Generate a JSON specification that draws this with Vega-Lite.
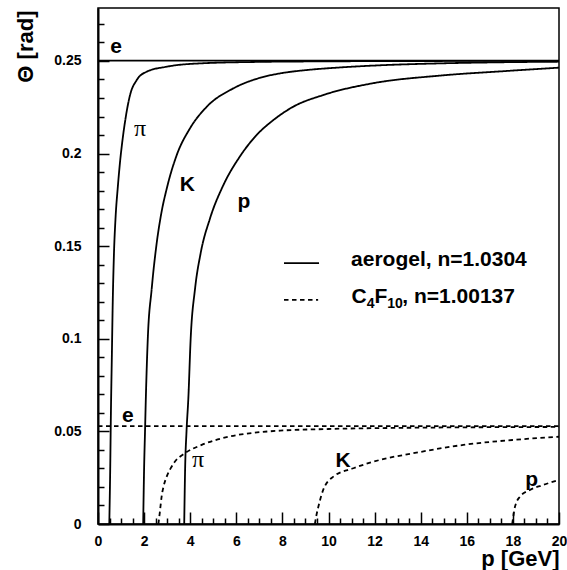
{
  "$schema": "https://vega.github.io/schema/vega-lite/v6.json",
  "width": 461,
  "height": 516,
  "autosize": {"type": "none"},
  "padding": {"left": 98, "top": 8, "right": 8, "bottom": 46},
  "background": "white",
  "config": {
    "view": {"stroke": "black", "strokeWidth": 1.5},
    "axis": {
      "grid": false,
      "ticks": true,
      "zindex": 1,
      "domainColor": "black",
      "domainWidth": 2,
      "tickColor": "black",
      "tickWidth": 1.5,
      "labelFont": "Liberation Sans",
      "labelFontWeight": "bold",
      "labelFontSize": 14,
      "labelColor": "black",
      "titleFont": "Liberation Sans",
      "titleFontWeight": "bold",
      "titleFontSize": 22,
      "titleColor": "black"
    }
  },
  "resolve": {"axis": {"x": "independent", "y": "independent"}},
  "datasets": {
    "curves": [
      {"curve": "ae", "radiator": "aerogel", "p": 0, "theta": 0.2502},
      {"curve": "ae", "radiator": "aerogel", "p": 20, "theta": 0.2502},

      {"curve": "api", "radiator": "aerogel", "p": 0.49, "theta": 0},
      {"curve": "api", "radiator": "aerogel", "p": 0.53, "theta": 0.03},
      {"curve": "api", "radiator": "aerogel", "p": 0.56, "theta": 0.06},
      {"curve": "api", "radiator": "aerogel", "p": 0.60, "theta": 0.09},
      {"curve": "api", "radiator": "aerogel", "p": 0.64, "theta": 0.12},
      {"curve": "api", "radiator": "aerogel", "p": 0.69, "theta": 0.145},
      {"curve": "api", "radiator": "aerogel", "p": 0.76, "theta": 0.165},
      {"curve": "api", "radiator": "aerogel", "p": 0.86, "theta": 0.182},
      {"curve": "api", "radiator": "aerogel", "p": 0.96, "theta": 0.196},
      {"curve": "api", "radiator": "aerogel", "p": 1.05, "theta": 0.206},
      {"curve": "api", "radiator": "aerogel", "p": 1.17, "theta": 0.217},
      {"curve": "api", "radiator": "aerogel", "p": 1.39, "theta": 0.2316},
      {"curve": "api", "radiator": "aerogel", "p": 1.68, "theta": 0.2397},
      {"curve": "api", "radiator": "aerogel", "p": 2.11, "theta": 0.2442},
      {"curve": "api", "radiator": "aerogel", "p": 2.98, "theta": 0.2469},
      {"curve": "api", "radiator": "aerogel", "p": 4.43, "theta": 0.2487},
      {"curve": "api", "radiator": "aerogel", "p": 7.0, "theta": 0.2495},
      {"curve": "api", "radiator": "aerogel", "p": 10.0, "theta": 0.2498},
      {"curve": "api", "radiator": "aerogel", "p": 15.0, "theta": 0.2500},
      {"curve": "api", "radiator": "aerogel", "p": 20.0, "theta": 0.2501},

      {"curve": "aK", "radiator": "aerogel", "p": 1.96, "theta": 0},
      {"curve": "aK", "radiator": "aerogel", "p": 2.0, "theta": 0.03},
      {"curve": "aK", "radiator": "aerogel", "p": 2.04, "theta": 0.05},
      {"curve": "aK", "radiator": "aerogel", "p": 2.08, "theta": 0.07},
      {"curve": "aK", "radiator": "aerogel", "p": 2.16, "theta": 0.10},
      {"curve": "aK", "radiator": "aerogel", "p": 2.33, "theta": 0.127},
      {"curve": "aK", "radiator": "aerogel", "p": 2.55, "theta": 0.152},
      {"curve": "aK", "radiator": "aerogel", "p": 2.75, "theta": 0.168},
      {"curve": "aK", "radiator": "aerogel", "p": 2.98, "theta": 0.181},
      {"curve": "aK", "radiator": "aerogel", "p": 3.41, "theta": 0.199},
      {"curve": "aK", "radiator": "aerogel", "p": 3.99, "theta": 0.2136},
      {"curve": "aK", "radiator": "aerogel", "p": 4.72, "theta": 0.2253},
      {"curve": "aK", "radiator": "aerogel", "p": 5.87, "theta": 0.2352},
      {"curve": "aK", "radiator": "aerogel", "p": 7.0, "theta": 0.2408},
      {"curve": "aK", "radiator": "aerogel", "p": 8.0, "theta": 0.2435},
      {"curve": "aK", "radiator": "aerogel", "p": 9.05, "theta": 0.2451},
      {"curve": "aK", "radiator": "aerogel", "p": 10.5, "theta": 0.2465},
      {"curve": "aK", "radiator": "aerogel", "p": 11.94, "theta": 0.2475},
      {"curve": "aK", "radiator": "aerogel", "p": 14.84, "theta": 0.2487},
      {"curve": "aK", "radiator": "aerogel", "p": 17.5, "theta": 0.2493},
      {"curve": "aK", "radiator": "aerogel", "p": 20.0, "theta": 0.2496},

      {"curve": "ap", "radiator": "aerogel", "p": 3.74, "theta": 0},
      {"curve": "ap", "radiator": "aerogel", "p": 3.78, "theta": 0.03},
      {"curve": "ap", "radiator": "aerogel", "p": 3.84, "theta": 0.05},
      {"curve": "ap", "radiator": "aerogel", "p": 3.92, "theta": 0.068},
      {"curve": "ap", "radiator": "aerogel", "p": 4.02, "theta": 0.100},
      {"curve": "ap", "radiator": "aerogel", "p": 4.21, "theta": 0.127},
      {"curve": "ap", "radiator": "aerogel", "p": 4.45, "theta": 0.146},
      {"curve": "ap", "radiator": "aerogel", "p": 4.86, "theta": 0.165},
      {"curve": "ap", "radiator": "aerogel", "p": 5.44, "theta": 0.183},
      {"curve": "ap", "radiator": "aerogel", "p": 6.16, "theta": 0.1985},
      {"curve": "ap", "radiator": "aerogel", "p": 6.88, "theta": 0.2100},
      {"curve": "ap", "radiator": "aerogel", "p": 7.61, "theta": 0.2181},
      {"curve": "ap", "radiator": "aerogel", "p": 8.47, "theta": 0.2253},
      {"curve": "ap", "radiator": "aerogel", "p": 9.77, "theta": 0.2316},
      {"curve": "ap", "radiator": "aerogel", "p": 11.94, "theta": 0.2380},
      {"curve": "ap", "radiator": "aerogel", "p": 14.84, "theta": 0.2421},
      {"curve": "ap", "radiator": "aerogel", "p": 17.73, "theta": 0.2446},
      {"curve": "ap", "radiator": "aerogel", "p": 20.0, "theta": 0.2464},

      {"curve": "ce", "radiator": "C4F10", "p": 0, "theta": 0.0528},
      {"curve": "ce", "radiator": "C4F10", "p": 20, "theta": 0.0528},

      {"curve": "cpi", "radiator": "C4F10", "p": 2.62, "theta": 0},
      {"curve": "cpi", "radiator": "C4F10", "p": 2.68, "theta": 0.006},
      {"curve": "cpi", "radiator": "C4F10", "p": 2.76, "theta": 0.0148},
      {"curve": "cpi", "radiator": "C4F10", "p": 2.86, "theta": 0.021},
      {"curve": "cpi", "radiator": "C4F10", "p": 2.98, "theta": 0.0256},
      {"curve": "cpi", "radiator": "C4F10", "p": 3.15, "theta": 0.030},
      {"curve": "cpi", "radiator": "C4F10", "p": 3.34, "theta": 0.0337},
      {"curve": "cpi", "radiator": "C4F10", "p": 3.77, "theta": 0.0382},
      {"curve": "cpi", "radiator": "C4F10", "p": 4.5, "theta": 0.0427},
      {"curve": "cpi", "radiator": "C4F10", "p": 5.65, "theta": 0.0471},
      {"curve": "cpi", "radiator": "C4F10", "p": 6.8, "theta": 0.0493},
      {"curve": "cpi", "radiator": "C4F10", "p": 7.9, "theta": 0.0504},
      {"curve": "cpi", "radiator": "C4F10", "p": 10.0, "theta": 0.0513},
      {"curve": "cpi", "radiator": "C4F10", "p": 13.0, "theta": 0.0519},
      {"curve": "cpi", "radiator": "C4F10", "p": 16.0, "theta": 0.0522},
      {"curve": "cpi", "radiator": "C4F10", "p": 20.0, "theta": 0.0524},

      {"curve": "cK", "radiator": "C4F10", "p": 9.41, "theta": 0},
      {"curve": "cK", "radiator": "C4F10", "p": 9.48, "theta": 0.005},
      {"curve": "cK", "radiator": "C4F10", "p": 9.56, "theta": 0.0093},
      {"curve": "cK", "radiator": "C4F10", "p": 9.77, "theta": 0.0184},
      {"curve": "cK", "radiator": "C4F10", "p": 10.21, "theta": 0.0256},
      {"curve": "cK", "radiator": "C4F10", "p": 11.08, "theta": 0.0301},
      {"curve": "cK", "radiator": "C4F10", "p": 12.23, "theta": 0.0346},
      {"curve": "cK", "radiator": "C4F10", "p": 13.68, "theta": 0.0382},
      {"curve": "cK", "radiator": "C4F10", "p": 15.85, "theta": 0.0427},
      {"curve": "cK", "radiator": "C4F10", "p": 18.02, "theta": 0.0454},
      {"curve": "cK", "radiator": "C4F10", "p": 20.0, "theta": 0.0471},

      {"curve": "cp", "radiator": "C4F10", "p": 17.97, "theta": 0},
      {"curve": "cp", "radiator": "C4F10", "p": 18.03, "theta": 0.005},
      {"curve": "cp", "radiator": "C4F10", "p": 18.09, "theta": 0.0093},
      {"curve": "cp", "radiator": "C4F10", "p": 18.31, "theta": 0.0148},
      {"curve": "cp", "radiator": "C4F10", "p": 18.74, "theta": 0.0184},
      {"curve": "cp", "radiator": "C4F10", "p": 19.32, "theta": 0.0211},
      {"curve": "cp", "radiator": "C4F10", "p": 20.0, "theta": 0.0238}
    ],
    "sansLabels": [
      {"label": "e", "p": 0.78, "theta": 0.2543},
      {"label": "K", "p": 3.88, "theta": 0.1798},
      {"label": "p", "p": 6.33, "theta": 0.1706},
      {"label": "e", "p": 1.30, "theta": 0.0552},
      {"label": "K", "p": 10.63, "theta": 0.0308},
      {"label": "p", "p": 18.81, "theta": 0.0205}
    ],
    "piLabels": [
      {"label": "π", "p": 1.82, "theta": 0.2095},
      {"label": "π", "p": 4.34, "theta": 0.0309}
    ],
    "legendLines": [
      {"radiator": "aerogel", "x1": 8.07, "x2": 9.59, "theta": 0.1408},
      {"radiator": "C4F10", "x1": 8.07, "x2": 9.55, "theta": 0.1210}
    ],
    "legendText": [
      {"label": "aerogel, n=1.0304", "p": 10.98, "theta": 0.1393},
      {"label": "C", "p": 11.0, "theta": 0.1195},
      {"label": "F", "p": 12.0, "theta": 0.1195},
      {"label": ", n=1.00137", "p": 13.2, "theta": 0.1195}
    ],
    "legendSub": [
      {"label": "4", "p": 11.66, "theta": 0.1168},
      {"label": "10", "p": 12.55, "theta": 0.1168}
    ]
  },
  "layer": [
    {
      "data": {"name": "curves"},
      "mark": {"type": "line", "interpolate": "monotone", "strokeWidth": 1.8, "color": "black", "clip": true},
      "encoding": {
        "x": {
          "field": "p", "type": "quantitative",
          "scale": {"domain": [0, 20], "nice": false, "zero": false},
          "axis": {
            "orient": "bottom",
            "values": [0,2,4,6,8,10,12,14,16,18,20],
            "format": "d",
            "tickSize": -12,
            "labelPadding": 22,
            "labelFlush": false,
            "labelOverlap": false,
            "title": "p [GeV]",
            "titleAnchor": "end",
            "titleAlign": "right",
            "titleX": 461,
            "titleY": 41,
            "titleBaseline": "alphabetic"
          }
        },
        "y": {
          "field": "theta", "type": "quantitative",
          "scale": {"domain": [0, 0.2786], "nice": false},
          "axis": {
            "orient": "left",
            "values": [0,0.05,0.1,0.15,0.2,0.25],
            "labelExpr": "format(datum.value, '.2~f')",
            "tickSize": -11,
            "labelPadding": 28,
            "labelFlush": false,
            "labelOverlap": false,
            "title": "Θ [rad]",
            "titleAngle": 270,
            "titleAlign": "right",
            "titleBaseline": "middle",
            "titleX": -73,
            "titleY": 2
          }
        },
        "detail": {"field": "curve"},
        "strokeDash": {
          "field": "radiator", "type": "nominal",
          "scale": {"domain": ["aerogel", "C4F10"], "range": [[1, 0], [4.5, 3.5]]},
          "legend": null
        }
      }
    },
    {
      "data": {"name": "legendLines"},
      "mark": {"type": "rule", "strokeWidth": 1.8, "color": "black"},
      "encoding": {
        "x": {
          "field": "x1", "type": "quantitative",
          "axis": {
            "orient": "bottom",
            "values": [0.5,1,1.5,2.5,3,3.5,4.5,5,5.5,6.5,7,7.5,8.5,9,9.5,10.5,11,11.5,12.5,13,13.5,14.5,15,15.5,16.5,17,17.5,18.5,19,19.5],
            "tickSize": -6,
            "labels": false,
            "domain": false,
            "title": null
          }
        },
        "x2": {"field": "x2"},
        "y": {
          "field": "theta", "type": "quantitative",
          "axis": {
            "orient": "left",
            "values": [0.01,0.02,0.03,0.04,0.06,0.07,0.08,0.09,0.11,0.12,0.13,0.14,0.16,0.17,0.18,0.19,0.21,0.22,0.23,0.24,0.26,0.27],
            "tickSize": -6,
            "labels": false,
            "domain": false,
            "title": null
          }
        },
        "strokeDash": {"field": "radiator", "type": "nominal", "legend": null}
      }
    },
    {
      "data": {"name": "sansLabels"},
      "mark": {"type": "text", "font": "Liberation Sans", "fontWeight": "bold", "fontSize": 21, "align": "center", "baseline": "alphabetic", "color": "black"},
      "encoding": {
        "x": {"field": "p", "type": "quantitative", "axis": null},
        "y": {"field": "theta", "type": "quantitative", "axis": null},
        "text": {"field": "label"}
      }
    },
    {
      "data": {"name": "piLabels"},
      "mark": {"type": "text", "font": "Liberation Serif", "fontSize": 24, "align": "center", "baseline": "alphabetic", "color": "black"},
      "encoding": {
        "x": {"field": "p", "type": "quantitative", "axis": null},
        "y": {"field": "theta", "type": "quantitative", "axis": null},
        "text": {"field": "label"}
      }
    },
    {
      "data": {"name": "legendText"},
      "mark": {"type": "text", "font": "Liberation Sans", "fontWeight": "bold", "fontSize": 21, "align": "left", "baseline": "alphabetic", "color": "black"},
      "encoding": {
        "x": {"field": "p", "type": "quantitative", "axis": null},
        "y": {"field": "theta", "type": "quantitative", "axis": null},
        "text": {"field": "label"}
      }
    },
    {
      "data": {"name": "legendSub"},
      "mark": {"type": "text", "font": "Liberation Sans", "fontWeight": "bold", "fontSize": 14, "align": "left", "baseline": "alphabetic", "color": "black"},
      "encoding": {
        "x": {"field": "p", "type": "quantitative", "axis": null},
        "y": {"field": "theta", "type": "quantitative", "axis": null},
        "text": {"field": "label"}
      }
    }
  ]
}
